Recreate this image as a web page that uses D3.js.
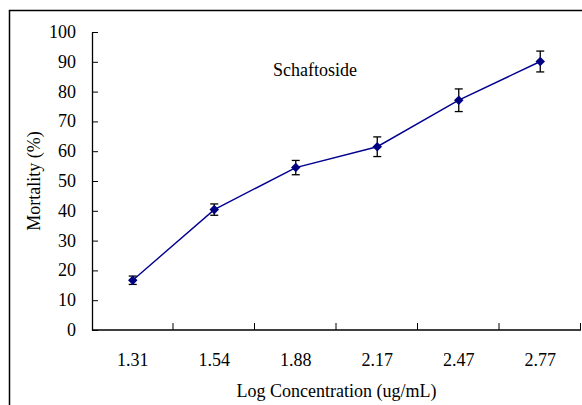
<!DOCTYPE html>
<html>
<head>
<meta charset="utf-8">
<script src="https://cdnjs.cloudflare.com/ajax/libs/d3/7.8.5/d3.min.js"></script>
<style>
    body { margin: 0; background: #fff; }
    text { font-family: "Liberation Serif", "Times New Roman", serif; fill: #000; }
</style>
</head>
<body>
<svg id="chart" width="582" height="405"></svg>
<script>
// data
var concentrations = ["1.31", "1.54", "1.88", "2.17", "2.47", "2.77"];
var mortality = [16.7, 40.4, 54.5, 61.5, 77.1, 90.1];
var errors = [1.4, 1.9, 2.4, 3.3, 3.8, 3.5];
var yTicks = [0, 10, 20, 30, 40, 50, 60, 70, 80, 90, 100];

var svg = d3.select("#chart"),
    width = +svg.attr("width"),
    height = +svg.attr("height");

var margin = {t: 32, r: 1, b: 75, l: 92};

// outer frame (runs off the right and bottom of the picture)
svg.append("rect")
    .attr("x", 9.5)
    .attr("y", 10.5)
    .attr("width", 620)
    .attr("height", 420)
    .attr("fill", "none")
    .attr("stroke", "#000")
    .attr("stroke-width", 1.5);

var x = d3.scaleBand()
    .domain(concentrations)
    .range([margin.l, width - margin.r]);

var y = d3.scaleLinear()
    .domain([0, 100])
    .range([height - margin.b, margin.t]);

var points = concentrations.map(function (c, i) {
    return {c: c, v: mortality[i], e: errors[i]};
});

// y axis: inner ticks, labels drawn by hand to the left
var yAxis = svg.append("g")
    .attr("transform", "translate(" + margin.l + ",0)")
    .call(d3.axisRight(y).tickValues(yTicks).tickSize(6).tickSizeOuter(0).tickFormat(""));

yAxis.select(".domain").attr("stroke-width", 1.3);

svg.selectAll(".ylab")
    .data(yTicks)
    .enter().append("text")
    .attr("class", "ylab")
    .attr("x", 76)
    .attr("y", function (d) { return y(d) + 6; })
    .attr("text-anchor", "end")
    .style("font-size", "18px")
    .text(function (d) { return d; });

// x axis: ticks sit on the band edges and point up
var xAxis = svg.append("g")
    .attr("transform", "translate(0," + y(0) + ")");

xAxis.append("line")
    .attr("x1", margin.l)
    .attr("x2", width - margin.r)
    .attr("stroke", "#000")
    .attr("stroke-width", 1.3);

var edges = concentrations.map(function (c) { return x(c); }).concat([x.range()[1]]);

xAxis.selectAll(".xtick")
    .data(edges.slice(1))
    .enter().append("line")
    .attr("class", "xtick")
    .attr("x1", function (d) { return d - 0.5; })
    .attr("x2", function (d) { return d - 0.5; })
    .attr("y1", 0)
    .attr("y2", -7)
    .attr("stroke", "#000");

xAxis.selectAll(".xlab")
    .data(concentrations)
    .enter().append("text")
    .attr("class", "xlab")
    .attr("x", function (d) { return x(d) + x.bandwidth() / 2; })
    .attr("y", 36)
    .attr("text-anchor", "middle")
    .style("font-size", "18px")
    .text(function (d) { return d; });

// axis titles
svg.append("text")
    .attr("x", (margin.l + width - margin.r) / 2)
    .attr("y", 397)
    .attr("text-anchor", "middle")
    .style("font-size", "18px")
    .text("Log Concentration (ug/mL)");

svg.append("text")
    .attr("transform", "translate(40," + 181 + ") rotate(-90)")
    .attr("text-anchor", "middle")
    .style("font-size", "18px")
    .text("Mortality (%)");

svg.append("text")
    .attr("x", 273)
    .attr("y", 76)
    .style("font-size", "18px")
    .text("Schaftoside");

// series
var cx = function (d) { return x(d.c) + x.bandwidth() / 2; };

var line = d3.line()
    .x(cx)
    .y(function (d) { return y(d.v); });

svg.append("path")
    .datum(points)
    .attr("d", line)
    .attr("fill", "none")
    .attr("stroke", "#000090")
    .attr("stroke-width", 1.4);

var bars = svg.selectAll(".err")
    .data(points)
    .enter().append("g")
    .attr("class", "err")
    .attr("stroke", "#000")
    .attr("stroke-width", 1.3);

bars.append("line")
    .attr("x1", cx).attr("x2", cx)
    .attr("y1", function (d) { return y(d.v + d.e); })
    .attr("y2", function (d) { return y(d.v - d.e); });

bars.append("line")
    .attr("x1", function (d) { return cx(d) - 4; })
    .attr("x2", function (d) { return cx(d) + 4; })
    .attr("y1", function (d) { return y(d.v + d.e); })
    .attr("y2", function (d) { return y(d.v + d.e); });

bars.append("line")
    .attr("x1", function (d) { return cx(d) - 4; })
    .attr("x2", function (d) { return cx(d) + 4; })
    .attr("y1", function (d) { return y(d.v - d.e); })
    .attr("y2", function (d) { return y(d.v - d.e); });

svg.selectAll(".pt")
    .data(points)
    .enter().append("path")
    .attr("class", "pt")
    .attr("transform", function (d) { return "translate(" + cx(d) + "," + y(d.v) + ")"; })
    .attr("d", d3.symbol().type(d3.symbolDiamond2).size(58))
    .attr("fill", "#000080");
</script>
</body>
</html>
